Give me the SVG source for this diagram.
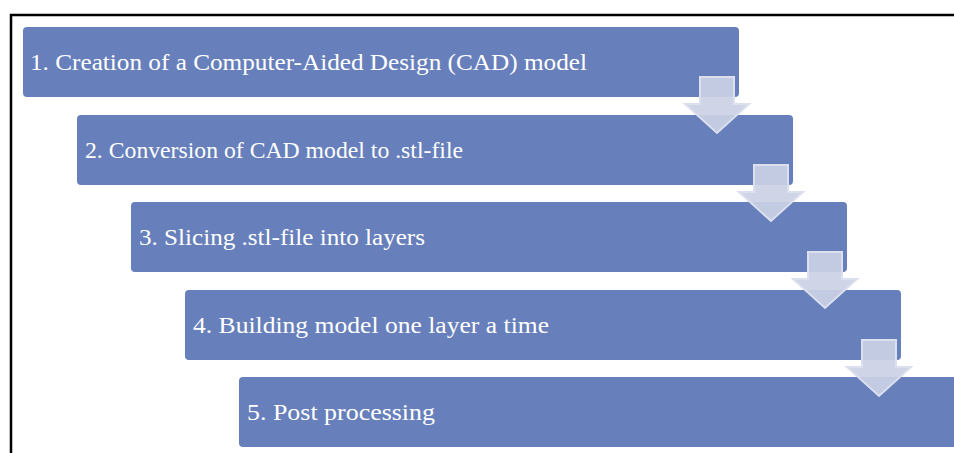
<svg xmlns="http://www.w3.org/2000/svg" width="954" height="453" viewBox="0 0 954 453">
<defs>
<style>
.box{fill:#6780bb;}
.lbl{font-family:"Liberation Serif","DejaVu Serif",serif;font-size:22.5px;fill:#ffffff;}
.arr{fill:#cbd1e5;fill-opacity:0.92;stroke:#dbdfee;stroke-width:2;stroke-linejoin:miter;}
</style>
</defs>
<rect width="954" height="453" fill="#ffffff"/>
<path d="M11,453 V15 H954" fill="none" stroke="#000000" stroke-width="2.5"/>
<g id="node1"><rect class="box" x="23" y="27" width="716" height="70" rx="4"/><text class="lbl" x="30" y="70" textLength="557" lengthAdjust="spacingAndGlyphs">1. Creation of a Computer-Aided Design (CAD) model</text></g>
<g id="node2"><rect class="box" x="77" y="115" width="716" height="70" rx="4"/><text class="lbl" x="85" y="158" textLength="378" lengthAdjust="spacingAndGlyphs">2. Conversion of CAD model to .stl-file</text></g>
<g id="node3"><rect class="box" x="131" y="202" width="716" height="70" rx="4"/><text class="lbl" x="139" y="245" textLength="286" lengthAdjust="spacingAndGlyphs">3. Slicing .stl-file into layers</text></g>
<g id="node4"><rect class="box" x="185" y="290" width="716" height="70" rx="4"/><text class="lbl" x="193" y="333" textLength="356" lengthAdjust="spacingAndGlyphs">4. Building model one layer a time</text></g>
<g id="node5"><rect class="box" x="239" y="377" width="720" height="70" rx="4"/><text class="lbl" x="247" y="420" textLength="188" lengthAdjust="spacingAndGlyphs">5. Post processing</text></g>
<g id="connectors">
<path class="arr" d="M700,77 H734 V104 H749 L717,133 L685,104 H700 Z"/>
<path class="arr" d="M754,165 H788 V192 H803 L771,221 L739,192 H754 Z"/>
<path class="arr" d="M808,252 H842 V279 H857 L825,308 L793,279 H808 Z"/>
<path class="arr" d="M862,340 H896 V367 H911 L879,396 L847,367 H862 Z"/>
</g>
</svg>
